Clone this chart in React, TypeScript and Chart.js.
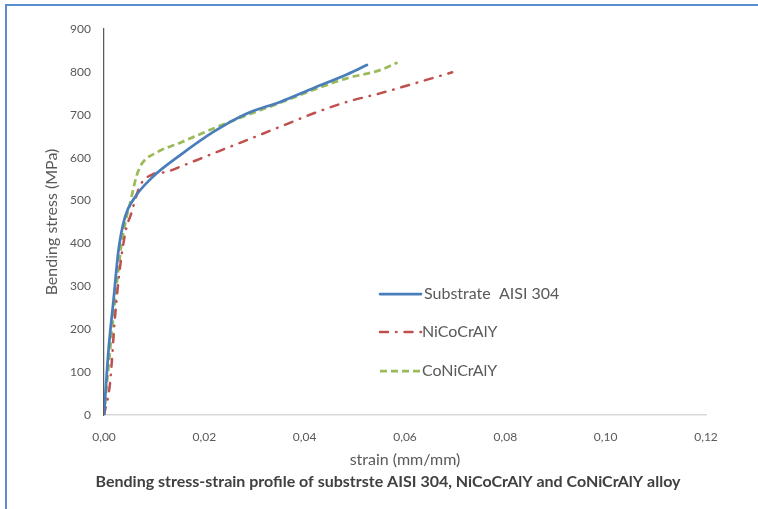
import React, { useEffect, useRef } from "react";
import { Chart, registerables } from "chart.js";

Chart.register(...registerables);

const seriesNames = ["Substrate  AISI 304", "NiCoCrAlY", "CoNiCrAlY"];

const strainSubstrate = [0, 0.0009, 0.0019, 0.0029, 0.0042, 0.006, 0.0098, 0.0152, 0.0218, 0.0285, 0.0351, 0.0417, 0.0484, 0.0524];
const stressSubstrate = [0, 151, 268, 385, 462, 505, 556, 606, 660, 703, 730, 762, 794, 816];

const strainNiCo = [0, 0.0012, 0.0022, 0.0032, 0.0045, 0.0052, 0.0072, 0.0095, 0.0125, 0.0152, 0.0218, 0.0285, 0.0351, 0.0417, 0.0484, 0.055, 0.0694];
const stressNiCo = [0, 74, 229, 345, 439, 462, 535, 560, 567, 579, 610, 641, 672, 703, 730, 750, 799];

const strainCoNi = [0, 0.0009, 0.0022, 0.0035, 0.0045, 0.0052, 0.0058, 0.0065, 0.0075, 0.0105, 0.0152, 0.0218, 0.0285, 0.0351, 0.0417, 0.0484, 0.055, 0.0585];
const stressCoNi = [0, 113, 268, 400, 462, 494, 525, 558, 585, 612, 635, 668, 699, 728, 758, 785, 804, 822];

const xTickLabels = ["0,00", "0,02", "0,04", "0,06", "0,08", "0,10", "0,12"];
const yTickLabels = ["0", "100", "200", "300", "400", "500", "600", "700", "800", "900"];

const xTitle = "strain (mm/mm)";
const yTitle = "Bending stress (MPa)";
const chartTitle = "Bending stress-strain profile of substrste AISI 304, NiCoCrAlY and CoNiCrAlY alloy";

const toPoints = (xs: number[], ys: number[]) => xs.map((x, i) => ({ x, y: ys[i] }));

const FONT = "Lato, 'Open Sans', sans-serif";
const TEXT = "#595959";

const legendPlugin = {
  id: "customLegend",
  afterDraw(chart: any) {
    const ctx = chart.ctx;
    const rows = [294, 332, 371];
    const x0 = 380;
    const x1 = 421;
    ctx.save();
    chart.data.datasets.forEach((ds: any, i: number) => {
      const y = rows[i];
      ctx.beginPath();
      ctx.strokeStyle = ds.borderColor;
      ctx.lineWidth = ds.borderWidth;
      ctx.lineCap = ds.borderCapStyle || "butt";
      ctx.setLineDash(ds.legendDash || []);
      ctx.moveTo(x0, y);
      ctx.lineTo(x1, y);
      ctx.stroke();
      ctx.setLineDash([]);
      ctx.fillStyle = TEXT;
      ctx.font = `16px ${FONT}`;
      ctx.textBaseline = "middle";
      ctx.textAlign = "left";
      ctx.fillText(ds.label, i === 0 ? 424 : 422, y);
    });
    // chart title below the axis title
    ctx.fillStyle = "#404040";
    ctx.font = `bold 16px ${FONT}`;
    ctx.textAlign = "center";
    ctx.textBaseline = "middle";
    ctx.fillText(chartTitle, 388, 482);
    ctx.restore();
  },
};

export default function App() {
  const ref = useRef<HTMLCanvasElement | null>(null);

  useEffect(() => {
    if (!ref.current) return;
    const chart = new Chart(ref.current, {
      type: "line",
      data: {
        datasets: [
          {
            label: seriesNames[0],
            data: toPoints(strainSubstrate, stressSubstrate),
            borderColor: "#4A7EBB",
            borderWidth: 2.75,
            pointRadius: 0,
            cubicInterpolationMode: "monotone",
            borderCapStyle: "round",
            legendDash: [],
          } as any,
          {
            label: seriesNames[1],
            data: toPoints(strainNiCo, stressNiCo),
            borderColor: "#C0504D",
            borderWidth: 2.5,
            pointRadius: 0,
            cubicInterpolationMode: "monotone",
            borderDash: [8, 8, 0.5, 8],
            borderCapStyle: "round",
            legendDash: [8, 8, 0.5, 8],
          } as any,
          {
            label: seriesNames[2],
            data: toPoints(strainCoNi, stressCoNi),
            borderColor: "#9BBB59",
            borderWidth: 2.75,
            pointRadius: 0,
            cubicInterpolationMode: "monotone",
            borderDash: [7, 4],
            borderCapStyle: "butt",
            legendDash: [7, 4],
          } as any,
        ],
      },
      options: {
        animation: false,
        responsive: false,
        devicePixelRatio: 1,
        layout: { padding: { left: 0, right: 52, top: 29, bottom: 37 } },
        plugins: {
          legend: { display: false },
          tooltip: { enabled: false },
          title: { display: false },
        },
        scales: {
          x: {
            type: "linear",
            min: 0,
            max: 0.12,
            ticks: {
              stepSize: 0.02,
              color: TEXT,
              font: { family: FONT, size: 12 },
              padding: 7,
              maxRotation: 0,
              callback: (_v: any, i: number) => xTickLabels[i],
            },
            grid: { display: false },
            border: { display: true, color: "#D9D9D9", width: 1.5 },
            title: {
              display: true,
              text: xTitle,
              color: TEXT,
              font: { family: FONT, size: 16, lineHeight: 1.2 },
              padding: { top: 0, bottom: 2.4 },
            },
            afterFit: (s: any) => {
              s.height = 57;
            },
          },
          y: {
            type: "linear",
            min: 0,
            max: 900,
            ticks: {
              stepSize: 100,
              color: TEXT,
              font: { family: FONT, size: 12 },
              padding: 5,
              callback: (_v: any, i: number) => yTickLabels[i],
            },
            grid: { display: false },
            border: { display: true, color: "#595959", width: 1.25 },
            title: {
              display: true,
              text: yTitle,
              color: TEXT,
              font: { family: FONT, size: 16, lineHeight: 1.2 },
              padding: { top: 42.4, bottom: 0 },
            },
            afterFit: (s: any) => {
              s.width = 104;
            },
          },
        },
      } as any,
      plugins: [legendPlugin],
    });
    return () => chart.destroy();
  }, []);

  return (
    <div style={{ position: "fixed", left: 0, top: 0, width: 758, height: 509, overflow: "hidden", background: "#fff" }}>
      <div
        style={{
          position: "absolute",
          left: 5,
          top: 4,
          width: 900,
          height: 700,
          borderLeft: "2px solid #5B8CD0",
          borderTop: "2px solid #5B8CD0",
        }}
      />
      <canvas ref={ref} width={758} height={509} style={{ position: "absolute", left: 0, top: 0, width: 758, height: 509 }} />
    </div>
  );
}
